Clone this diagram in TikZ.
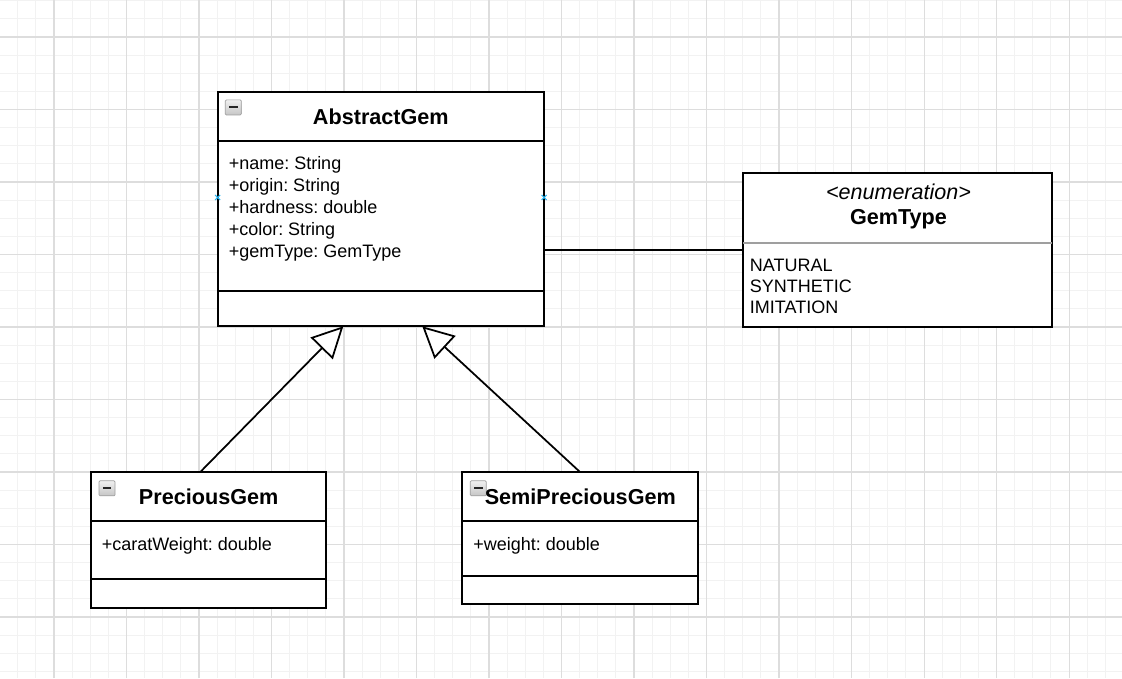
\documentclass[tikz,border=0pt]{standalone}
\usepackage{fontspec}
\setmainfont{Liberation Sans}
\usetikzlibrary{arrows.meta}
\definecolor{gridmajor}{HTML}{DDDDDD}
\definecolor{gridminor}{HTML}{F2F2F2}
\definecolor{hoverblue}{HTML}{29B6F2}
\frenchspacing
\begin{document}
\begin{tikzpicture}[x=0.2mm,y=-0.2mm]
\tikzstyle{classbox}=[rectangle, draw, line width=1.1pt, fill=white, inner sep=0pt, outer sep=0pt]
\tikzstyle{divider}=[black, line width=1.1pt]
\tikzstyle{enum-divider}=[gray!75, line width=1.1pt]
\tikzstyle{class-name}=[anchor=base, inner sep=0pt, font=\fontsize{12.3}{14}\selectfont\bfseries]
\tikzstyle{stereotype}=[anchor=base, inner sep=0pt, font=\fontsize{12.24}{14}\selectfont\itshape]
\tikzstyle{member}=[anchor=base west, inner sep=0pt, font=\fontsize{10.24}{12}\selectfont]
\tikzstyle{toggle}=[rectangle, rounded corners=0.6pt, draw=gray!75, top color=gray!12, bottom color=gray!45, minimum width=3.2mm, minimum height=3mm, inner sep=0pt, path picture={\draw[line width=1.2pt, black!85] ([xshift=-0.85mm]path picture bounding box.center) -- ([xshift=0.85mm]path picture bounding box.center);}]
\tikzstyle{generalization}=[-{Triangle[length=6.2mm, width=6.2mm, fill=white]}, black, line width=1pt]
\tikzstyle{association}=[-, black, line width=1pt]
\tikzstyle{hover-mark}=[hoverblue, line width=0.6pt]

\fill[white] (0,0) rectangle (1122,678);
\useasboundingbox (0,0) rectangle (1122,678);
\draw[gridminor, line width=0.6pt, step=3.625mm, shift={(17.75,0.75)}] (-17.75,-0.75) grid (1104.25,677.25);
\draw[gridmajor, line width=0.6pt, step=14.5mm, shift={(54,37)}] (-54,-37) grid (1068,641);

% AbstractGem
\node[style=classbox, minimum width=6.526cm, minimum height=4.692cm] (ag) at (380.85,209) {};
\draw[style=divider] ([yshift=-9.8mm]ag.north west) -- ([yshift=-9.8mm]ag.north east);
\draw[style=divider] ([yshift=7.06mm]ag.south west) -- ([yshift=7.06mm]ag.south east);
\node[style=toggle] (ag-toggle) at (233.3,107.4) {};
\node[style=class-name] (ag-name) at (380.85,124.3) {AbstractGem};
\node[style=member] (ag-name-attr) at (228.4,169.5) {+name: String};
\node[style=member] (ag-origin) at (228.4,191.5) {+origin: String};
\node[style=member] (ag-hardness) at (228.4,213.5) {+hardness: double};
\node[style=member] (ag-color) at (228.4,235.5) {+color: String};
\node[style=member] (ag-gemtype) at (228.4,257.5) {+gemType: GemType};
\draw[style=hover-mark] (215.2,195) -- (220.2,200) (215.2,200) -- (220.2,195);
\draw[style=hover-mark] (541.5,195) -- (546.5,200) (541.5,200) -- (546.5,195);

% GemType
\node[style=classbox, minimum width=6.168cm, minimum height=3.08cm] (gt) at (897.5,250.3) {};
\draw[style=enum-divider] ([yshift=-13.88mm]gt.north west) -- ([yshift=-13.88mm]gt.north east);
\node[style=stereotype] (gt-stereo) at (898.5,199.3) {<enumeration>};
\node[style=class-name] (gt-name) at (898.5,224.3) {GemType};
\node[style=member] (gt-natural) at (749.6,271) {NATURAL};
\node[style=member] (gt-synthetic) at (749.6,292.3) {SYNTHETIC};
\node[style=member] (gt-imitation) at (749.6,313.7) {IMITATION};

% PreciousGem
\node[style=classbox, minimum width=4.706cm, minimum height=2.714cm] (pg) at (208.65,540.15) {};
\draw[style=divider] ([yshift=-9.74mm]pg.north west) -- ([yshift=-9.74mm]pg.north east);
\draw[style=divider] ([yshift=5.74mm]pg.south west) -- ([yshift=5.74mm]pg.south east);
\node[style=toggle] (pg-toggle) at (107,488.3) {};
\node[style=class-name] (pg-name) at (208.65,504.3) {PreciousGem};
\node[style=member] (pg-carat) at (101.4,550) {+caratWeight: double};

% SemiPreciousGem
\node[style=classbox, minimum width=4.72cm, minimum height=2.634cm] (sp) at (580.3,538.15) {};
\draw[style=divider] ([yshift=-9.74mm]sp.north west) -- ([yshift=-9.74mm]sp.north east);
\draw[style=divider] ([yshift=5.66mm]sp.south west) -- ([yshift=5.66mm]sp.south east);
\node[style=toggle] (sp-toggle) at (478.3,488.3) {};
\node[style=class-name] (sp-name) at (580.3,504.3) {SemiPreciousGem};
\node[style=member] (sp-weight) at (473.1,550) {+weight: double};

\draw[style=generalization] ([xshift=-1.73mm]pg.north) -- ([xshift=-7.51mm]ag.south);
\draw[style=generalization] (sp.north) -- ([xshift=8.29mm]ag.south);
\draw[style=association] (gt.west -| ag.east) -- (gt.west);

\end{tikzpicture}
\end{document}
